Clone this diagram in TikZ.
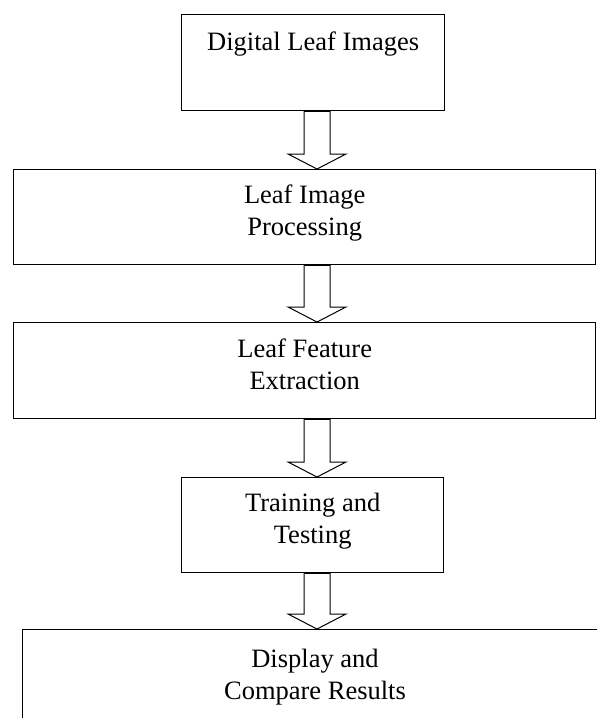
\documentclass[tikz,border=0pt]{standalone}
\usepackage{fontspec}
\setmainfont{Liberation Serif}
\usetikzlibrary{calc}
\tikzset{
  stage/.style={draw, line width=1.4pt, rectangle, inner sep=0pt, anchor=north west},
  stagetext/.style={anchor=north, inner sep=0pt, align=center,
    font=\fontsize{26.5}{31.5}\selectfont},
  hollowarrow/.style={draw, line width=1pt, fill=white, line join=miter},
}
% block arrow from the bottom of #1 to the top of #2
\newcommand{\stagearrow}[2]{%
  \draw[hollowarrow] let \p1=(#1.south), \p2=(#2.north) in
    (304pt,\y1) -- (304pt,\y2+15pt) -- (288pt,\y2+15pt) -- (317pt,\y2)
    -- (346pt,\y2+15pt) -- (330pt,\y2+15pt) -- (330pt,\y1) -- cycle;}
\begin{document}
\begin{tikzpicture}[x=1pt,y=-1pt]
\useasboundingbox (0,0) rectangle (597,718);
\clip (0,0) rectangle (597,718);
% Stages
\node[stage, minimum width=263pt, minimum height=96pt] (images) at (181,14) {};
\node[stage, minimum width=582pt, minimum height=95pt] (processing) at (13,169) {};
\node[stage, minimum width=582pt, minimum height=96pt] (extraction) at (13,322) {};
\node[stage, minimum width=262pt, minimum height=95pt] (training) at (181,477) {};
\node[stage, minimum width=620pt, minimum height=120pt] (results) at (22,629) {};
% Labels
\node[stagetext] (imagestext) at ($(images.north)+(0,18)$) {Digital Leaf Images};
\node[stagetext] (processingtext) at ($(processing.north)+(0,16)$) {Leaf Image\\Processing};
\node[stagetext] (extractiontext) at ($(extraction.north)+(0,17)$) {Leaf Feature\\Extraction};
\node[stagetext] (trainingtext) at ($(training.north)+(0,16)$) {Training and\\Testing};
\node[stagetext] (resultstext) at (315,649) {Display and\\Compare Results};
% Arrows
\stagearrow{images}{processing}
\stagearrow{processing}{extraction}
\stagearrow{extraction}{training}
\stagearrow{training}{results}
\end{tikzpicture}
\end{document}
